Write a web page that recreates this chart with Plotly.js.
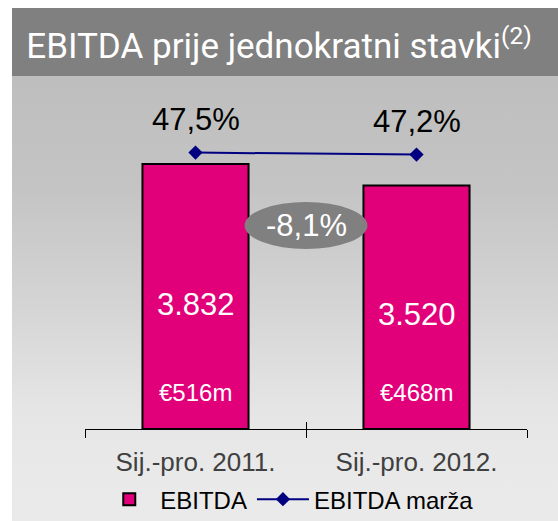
<!DOCTYPE html>
<html>
<head>
<meta charset="utf-8">
<script src="https://cdn.plot.ly/plotly-3.0.1.min.js"></script>
<style>
  html, body { margin: 0; padding: 0; background: #ffffff; width: 558px; height: 521px; overflow: hidden; }
  #panel { position: absolute; left: 12px; top: 8px; width: 546px; height: 513px;
    background: linear-gradient(to bottom, #bdbdbd 0px, #bebebe 68px, #c4c4c4 180px, #d5d5d5 300px, #e5e5e5 400px, #e9e9e9 460px, #eaeaea 513px); }
  #banner { position: absolute; left: 12px; top: 8px; width: 546px; height: 68px; background: #808080; }
  #chart { position: absolute; left: 0; top: 0; width: 558px; height: 521px; }
</style>
</head>
<body>
<div id="panel"></div>
<div id="banner"></div>
<div id="chart"></div>
<script>
// ---- data ----
const categories = ['Sij.-pro. 2011.', 'Sij.-pro. 2012.'];
const ebitda = [3832, 3520];          // HRK m
const ebitdaEur = [516, 468];         // EUR m
const ebitdaMargin = [47.5, 47.2];    // %
const seriesNames = ['EBITDA', 'EBITDA marža'];
const titleText = 'EBITDA prije jednokratni stavki<sup>(2)</sup>';

// ---- formatting helpers ----
function fmtThousands(v) { return String(v).replace(/\B(?=(\d{3})+(?!\d))/g, '.'); }
function fmtPct(v) { return v.toFixed(1).replace('.', ',') + '%'; }
const change = (ebitda[1] / ebitda[0] - 1) * 100;

const FONT = 'Liberation Sans, Arial, sans-serif';

const traces = [
  {
    type: 'bar', name: seriesNames[0], x: categories, y: ebitda,
    width: 0.48,
    marker: { color: '#e2007a', line: { color: '#000000', width: 2 } },
    hoverinfo: 'none'
  },
  {
    type: 'scatter', mode: 'lines+markers', name: seriesNames[1],
    x: categories, y: ebitdaMargin, yaxis: 'y2',
    line: { color: '#000080', width: 2 },
    marker: { symbol: 'diamond', size: 11, color: '#000080' },
    hoverinfo: 'none'
  },
  // helper (empty) trace so the overlay axis carrying the inner half of the ticks is drawn
  {
    type: 'scatter', mode: 'markers', x: [0, 2], y: [null, null], xaxis: 'x2', yaxis: 'y',
    showlegend: false, hoverinfo: 'none', marker: { opacity: 0 }
  }
];

const annotations = [];
categories.forEach((c, i) => {
  annotations.push({ x: c, y: ebitdaMargin[i], xref: 'x', yref: 'y2', yshift: 33,
    text: fmtPct(ebitdaMargin[i]), showarrow: false,
    font: { family: FONT, size: 31, color: '#000000' } });
  annotations.push({ x: c, y: ebitda[i] * 0.47, xref: 'x', yref: 'y',
    text: fmtThousands(ebitda[i]), showarrow: false,
    font: { family: FONT, size: 31, color: '#ffffff' } });
  annotations.push({ x: c, y: 0, xref: 'x', yref: 'y', yshift: 37,
    text: '€' + ebitdaEur[i] + 'm', showarrow: false,
    font: { family: FONT, size: 24, color: '#ffffff' } });
});
annotations.push({ x: 0.5, y: 2943, xref: 'x', yref: 'y',
  text: fmtPct(change), showarrow: false,
  font: { family: FONT, size: 31, color: '#ffffff' } });

const layout = {
  width: 558, height: 521,
  margin: { l: 85, r: 31, t: 76, b: 92, autoexpand: false },
  paper_bgcolor: 'rgba(0,0,0,0)', plot_bgcolor: 'rgba(0,0,0,0)',
  separators: ',.',
  title: { text: titleText, x: 0.5, xref: 'container', xanchor: 'center',
    y: 1 - 46 / 521, yref: 'container', yanchor: 'middle',
    font: { family: 'Roboto, sans-serif', size: 35, color: '#ffffff' } },
  showlegend: true,
  legend: { orientation: 'h', x: 0.03, xanchor: 'left', y: -0.2, yanchor: 'middle',
    font: { family: FONT, size: 24, color: '#000000' }, bgcolor: 'rgba(0,0,0,0)',
    itemwidth: 52, tracegroupgap: 0 },
  xaxis: { type: 'category', range: [-0.5, 1.5], showline: true, linecolor: '#000000', linewidth: 1,
    ticks: 'outside', ticklen: 8, tickcolor: '#000000', tickwidth: 1, tickson: 'boundaries',
    ticklabelstandoff: 10, automargin: false,
    tickfont: { family: FONT, size: 26, color: '#404040' }, showgrid: false, zeroline: false,
    fixedrange: true },
  xaxis2: { overlaying: 'x', anchor: 'y', side: 'bottom', type: 'linear', range: [0, 2],
    tick0: 0, dtick: 1, ticks: 'inside', ticklen: 7, tickcolor: '#000000', tickwidth: 1,
    showticklabels: false, showline: false, showgrid: false, zeroline: false, automargin: false },
  yaxis: { range: [0, 5104], visible: false, showgrid: false, zeroline: false, fixedrange: true },
  yaxis2: { overlaying: 'y', range: [6, 59], visible: false, showgrid: false, zeroline: false },
  shapes: [
    { type: 'circle', xref: 'x', yref: 'y', x0: 0.5 - 0.278, x1: 0.5 + 0.278, y0: 2603, y1: 3282,
      fillcolor: '#808080', line: { width: 0 }, layer: 'above' }
  ],
  annotations: annotations,
  bargap: 0
};

Plotly.newPlot('chart', traces, layout, { displayModeBar: false, staticPlot: true });
</script>
</body>
</html>
